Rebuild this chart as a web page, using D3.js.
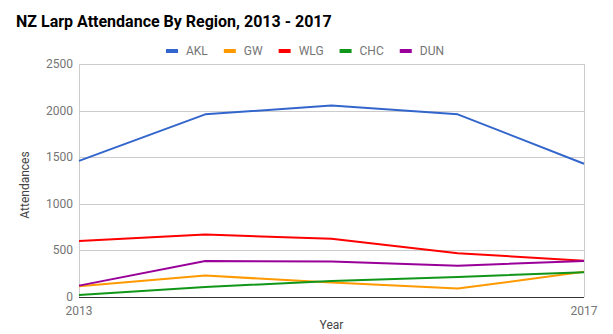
<!DOCTYPE html>
<html>
<head>
<meta charset="utf-8">
<script src="https://cdn.jsdelivr.net/npm/d3@7"></script>
<style>
  html, body { margin: 0; padding: 0; background: #fff; }
  svg { display: block; font-family: Roboto, "Noto Sans", sans-serif; }
</style>
</head>
<body>
<svg id="chart" width="613" height="334"></svg>
<script>
const years = [2013, 2014, 2015, 2016, 2017];
const seriesNames = ["AKL", "GW", "WLG", "CHC", "DUN"];
const akl = [1460, 1960, 2055, 1960, 1430];
const gw  = [115, 230, 155, 90, 270];
const wlg = [600, 670, 625, 470, 390];
const chc = [22, 107, 172, 215, 265];
const dun = [122, 386, 380, 336, 386];
const seriesColors = ["#3366cc", "#ff9900", "#ff0000", "#109618", "#990099"];
const yTicks = [0, 500, 1000, 1500, 2000, 2500];
const xTickValues = [2013, 2017];
const titleText = "NZ Larp Attendance By Region, 2013 - 2017";
const xTitle = "Year";
const yTitle = "Attendances";

const seriesValues = [akl, gw, wlg, chc, dun];

const svg = d3.select("#chart");
const plotLeft = 79, plotRight = 584, plotTop = 64, plotBottom = 297;

const x = d3.scaleLinear().domain([2013, 2017]).range([plotLeft, plotRight]);
const y = d3.scaleLinear().domain([0, 2500]).range([plotBottom, plotTop]);

// Title
svg.append("text").attr("x", 16).attr("y", 27)
  .attr("font-size", 16).attr("font-weight", "bold").attr("fill", "#000")
  .text(titleText);

// Horizontal gridlines
svg.append("g").selectAll("line").data(yTicks.filter(d => d !== 0)).join("line")
  .attr("x1", plotLeft).attr("x2", plotRight)
  .attr("y1", d => Math.round(y(d)) + 0.5).attr("y2", d => Math.round(y(d)) + 0.5)
  .attr("stroke", "#cccccc").attr("stroke-width", 1);

// Vertical gridlines at ends
svg.append("g").selectAll("line").data(xTickValues).join("line")
  .attr("x1", d => Math.round(x(d)) + 0.5).attr("x2", d => Math.round(x(d)) + 0.5)
  .attr("y1", plotTop).attr("y2", plotBottom)
  .attr("stroke", "#cccccc").attr("stroke-width", 1);

// Y tick labels
svg.append("g").selectAll("text").data(yTicks).join("text")
  .attr("x", 73).attr("y", d => y(d) + 4)
  .attr("text-anchor", "end").attr("font-size", 12).attr("fill", "#757575")
  .text(d => d);

// X tick labels
svg.append("g").selectAll("text").data(xTickValues).join("text")
  .attr("x", d => x(d)).attr("y", 315)
  .attr("text-anchor", "middle").attr("font-size", 12).attr("fill", "#757575")
  .text(d => d);

// Axis titles
svg.append("text").attr("x", (plotLeft + plotRight) / 2).attr("y", 329)
  .attr("text-anchor", "middle").attr("font-size", 12).attr("fill", "#444")
  .text(xTitle);
svg.append("text")
  .attr("transform", `translate(29,185) rotate(-90)`)
  .attr("text-anchor", "middle").attr("font-size", 12).attr("fill", "#444")
  .text(yTitle);

// Lines
const line = d3.line().x((d, i) => x(years[i])).y(d => y(d));
svg.append("g").selectAll("path").data(seriesValues).join("path")
  .attr("d", d => line(d))
  .attr("fill", "none")
  .attr("stroke", (d, i) => seriesColors[i])
  .attr("stroke-width", 2)
  .attr("stroke-linejoin", "round");

// Baseline
svg.append("line").attr("x1", plotLeft).attr("x2", plotRight)
  .attr("y1", Math.round(y(0)) + 0.5).attr("y2", Math.round(y(0)) + 0.5)
  .attr("stroke", "#333").attr("stroke-width", 1);

// Legend
const legend = svg.append("g");
let lx = 166;
seriesNames.forEach((name, i) => {
  legend.append("rect").attr("x", lx).attr("y", 49).attr("width", 12).attr("height", 4)
    .attr("fill", seriesColors[i]);
  const t = legend.append("text").attr("x", lx + 20).attr("y", 55)
    .attr("font-size", 12).attr("fill", "#757575").text(name);
  const w = t.node().getComputedTextLength();
  lx += 20 + w + 16;
});
</script>
</body>
</html>
